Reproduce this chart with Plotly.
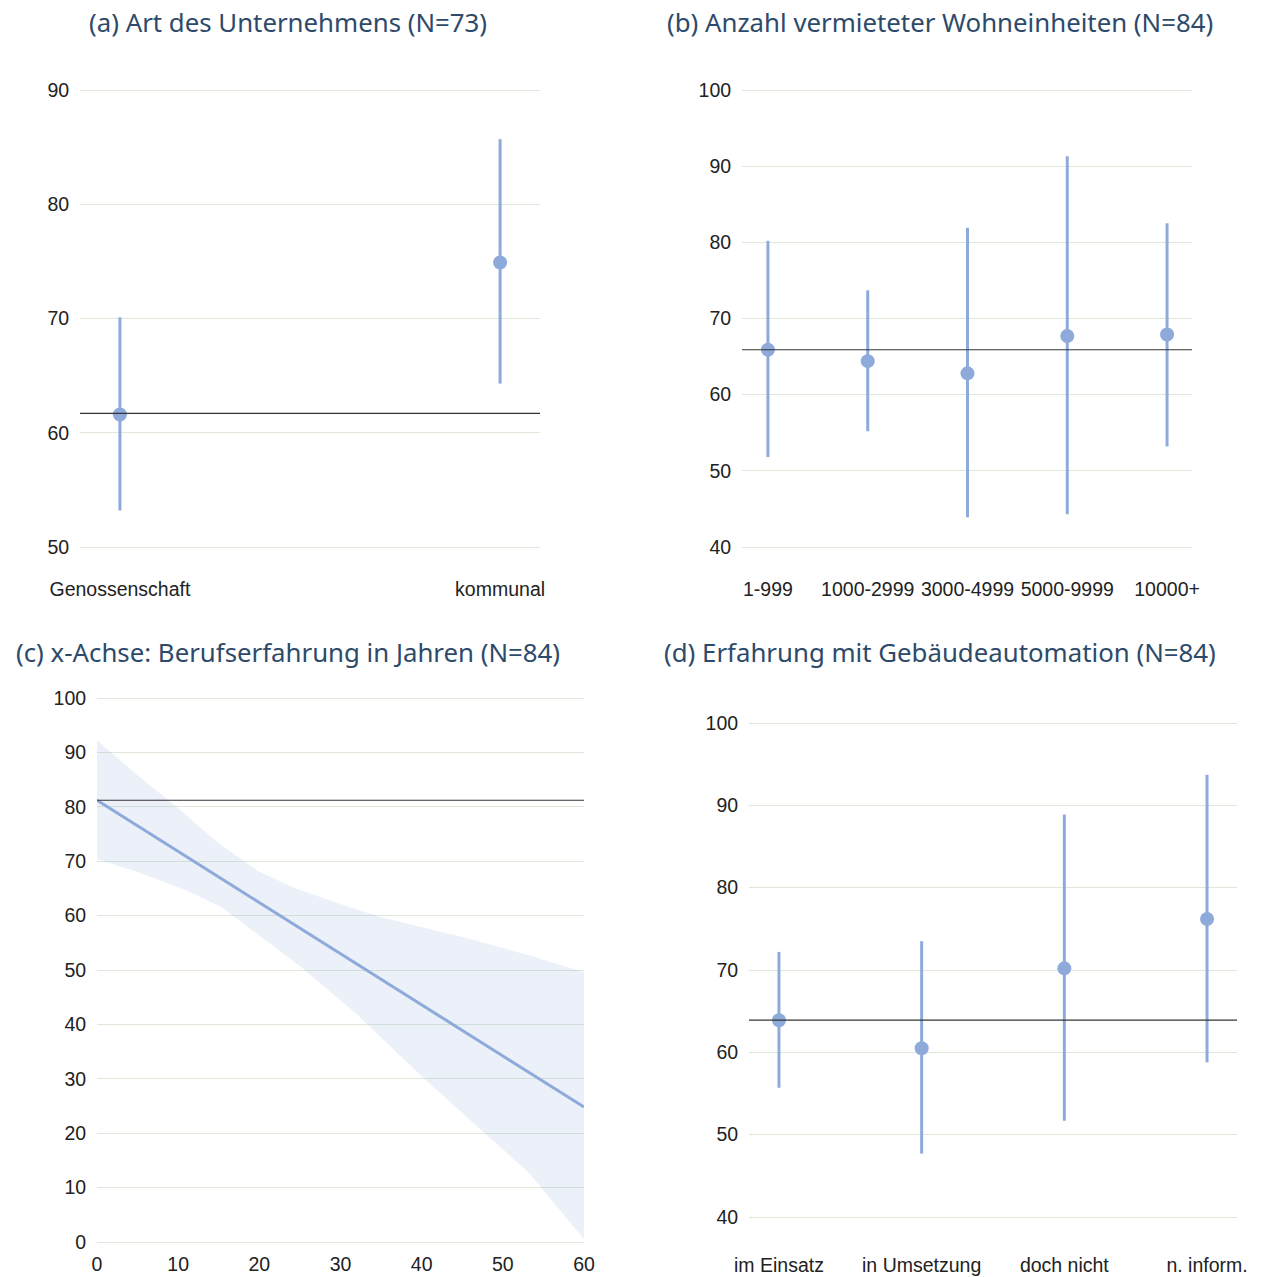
import plotly.graph_objects as go

# ---- data -------------------------------------------------------------
# (a) company type
a_cats = ["Genossenschaft", "kommunal"]
a_mean = [61.6, 74.9]
a_hi = [70.1, 85.7]
a_lo = [53.2, 64.3]
a_ref = 61.7

# (b) number of rented dwelling units
b_cats = ["1-999", "1000-2999", "3000-4999", "5000-9999", "10000+"]
b_mean = [65.9, 64.4, 62.8, 67.7, 67.9]
b_hi = [80.2, 73.7, 81.9, 91.3, 82.5]
b_lo = [51.8, 55.2, 43.9, 44.3, 53.2]
b_ref = 65.9

# (c) professional experience in years: fitted line with confidence band
c_line_x = [0, 60]
c_line_y = [81.2, 24.8]
c_upper_x = [0, 5, 10, 14.4, 19.7, 24.5, 29.9, 34.8, 40.5, 46.5, 53.0, 60]
c_upper_y = [92.2, 85.8, 79.8, 74.0, 68.3, 65.0, 62.2, 59.8, 57.7, 55.5, 52.8, 49.6]
c_lower_x = [0, 5, 10.9, 15.3, 20.2, 25.1, 31.9, 39.7, 46.5, 53.3, 60]
c_lower_y = [70.4, 68.0, 64.7, 61.6, 56.1, 50.6, 42.0, 30.9, 21.7, 12.6, 0.5]
c_ref = 81.2

# (d) experience with building automation
d_cats = ["im Einsatz", "in Umsetzung", "doch nicht", "n. inform."]
d_mean = [63.9, 60.5, 70.2, 76.2]
d_hi = [72.2, 73.5, 88.9, 93.7]
d_lo = [55.7, 47.7, 51.7, 58.8]
d_ref = 63.9

titles = [
    "(a) Art des Unternehmens (N=73)",
    "(b) Anzahl vermieteter Wohneinheiten (N=84)",
    "(c) x-Achse: Berufserfahrung in Jahren (N=84)",
    "(d) Erfahrung mit Gebäudeautomation (N=84)",
]

# ---- styling ----------------------------------------------------------
W, H = 1263, 1277
MARK = "#8eaadb"
BAND = "rgba(142,170,219,0.17)"
GRID = "#dde8d8"
TICKFONT = dict(family="Liberation Sans, Arial, sans-serif", size=19.5, color="#222222")
TITLEFONT = dict(family="Noto Sans, Open Sans, sans-serif", size=25.8, color="#2d4a6a")


def xdom(l, r):
    return [l / W, r / W]


def yaxis_box(top_px, bot_px, lo, hi, pad_px=3.0):
    """Domain and range so that value `hi` sits at top_px and `lo` at bot_px,
    with a small pixel pad so the edge gridlines are still drawn."""
    per = (bot_px - top_px) / (hi - lo)
    pad = pad_px / per
    dom = [1 - (bot_px + pad_px) / H, 1 - (top_px - pad_px) / H]
    return dom, [lo - pad, hi + pad]


fig = go.Figure()


def add_ci(xaxis, yaxis, cats, mean, hi, lo):
    fig.add_trace(go.Scatter(
        x=list(range(len(cats))), y=mean, mode="markers",
        marker=dict(color=MARK, size=14),
        error_y=dict(type="data", symmetric=False,
                     array=[h - m for h, m in zip(hi, mean)],
                     arrayminus=[m - l for m, l in zip(mean, lo)],
                     color=MARK, thickness=3, width=0),
        xaxis=xaxis, yaxis=yaxis, showlegend=False, hoverinfo="skip",
    ))


add_ci("x", "y", a_cats, a_mean, a_hi, a_lo)
add_ci("x2", "y2", b_cats, b_mean, b_hi, b_lo)
add_ci("x4", "y4", d_cats, d_mean, d_hi, d_lo)

# (c) confidence band + regression line
fig.add_trace(go.Scatter(
    x=c_upper_x + c_lower_x[::-1], y=c_upper_y + c_lower_y[::-1],
    fill="toself", fillcolor=BAND, line=dict(width=0), mode="lines",
    xaxis="x3", yaxis="y3", showlegend=False, hoverinfo="skip",
))
fig.add_trace(go.Scatter(
    x=c_line_x, y=c_line_y, mode="lines", line=dict(color=MARK, width=3),
    xaxis="x3", yaxis="y3", showlegend=False, hoverinfo="skip",
))

# reference lines
for ax, ref in [("", a_ref), ("2", b_ref), ("3", c_ref), ("4", d_ref)]:
    fig.add_shape(type="line", xref=f"x{ax} domain", yref=f"y{ax}",
                  x0=0, x1=1, y0=ref, y1=ref,
                  line=dict(color="#333333", width=1.2), layer="above")

yax_common = dict(showgrid=True, gridcolor=GRID, gridwidth=1, zeroline=False,
                  showline=False, tickfont=TICKFONT, ticks="outside",
                  ticklen=6, tickcolor="rgba(0,0,0,0)", fixedrange=True,
                  automargin=False, dtick=10, tick0=0)
xax_common = dict(showgrid=False, zeroline=False, showline=False,
                  tickfont=TICKFONT, ticks="outside",
                  tickcolor="rgba(0,0,0,0)", fixedrange=True, automargin=False)

ya_dom, ya_rng = yaxis_box(90, 547, 50, 90)
yb_dom, yb_rng = yaxis_box(90, 547, 40, 100)
yc_dom, yc_rng = yaxis_box(698, 1242, 0, 100)
yd_dom, yd_rng = yaxis_box(723, 1217, 40, 100)

fig.update_layout(
    width=W, height=H, margin=dict(l=0, r=0, t=0, b=0, autoexpand=False),
    paper_bgcolor="white", plot_bgcolor="white",
    xaxis=dict(domain=xdom(80, 540), anchor="y", range=[-0.105, 1.105],
               tickvals=list(range(len(a_cats))), ticktext=a_cats,
               ticklen=22, **xax_common),
    yaxis=dict(domain=ya_dom, anchor="x", range=ya_rng, **yax_common),
    xaxis2=dict(domain=xdom(742, 1192), anchor="y2", range=[-0.26, 4.25],
                tickvals=list(range(len(b_cats))), ticktext=b_cats,
                ticklen=22, **xax_common),
    yaxis2=dict(domain=yb_dom, anchor="x2", range=yb_rng, **yax_common),
    xaxis3=dict(domain=xdom(97, 584), anchor="y3", range=[0, 60], dtick=10,
                ticklen=2, **xax_common),
    yaxis3=dict(domain=yc_dom, anchor="x3", range=yc_rng, **yax_common),
    xaxis4=dict(domain=xdom(749, 1237), anchor="y4", range=[-0.21, 3.21],
                tickvals=list(range(len(d_cats))), ticktext=d_cats,
                ticklen=28, **xax_common),
    yaxis4=dict(domain=yd_dom, anchor="x4", range=yd_rng, **yax_common),
)

for text, cx, cy in zip(titles, [288, 940, 288, 940], [22, 22, 652, 652]):
    fig.add_annotation(text=text, xref="paper", yref="paper",
                       x=cx / W, y=1 - cy / H, xanchor="center", yanchor="middle",
                       showarrow=False, font=TITLEFONT)

fig.write_html("out.html")
